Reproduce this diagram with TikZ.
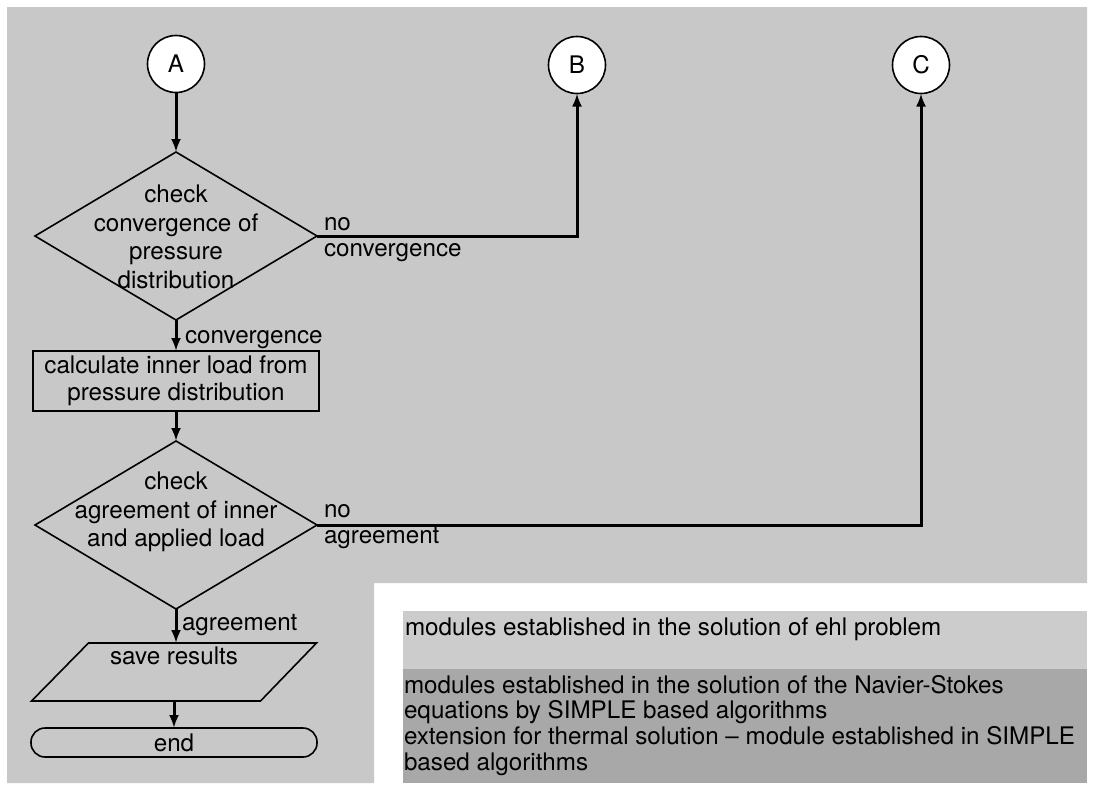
\documentclass[tikz,border=0pt]{standalone}
\usepackage{fontspec}
\setmainfont{TeX Gyre Heros}
\usetikzlibrary{shapes.geometric,arrows.meta}
\definecolor{bggray}{RGB}{200,200,200}
\definecolor{lightleg}{RGB}{204,204,204}
\definecolor{darkleg}{RGB}{168,168,168}
\begin{document}
\begin{tikzpicture}[x=1pt,y=-1pt,
  txt/.style={font=\fontsize{24.2}{28.5}\selectfont, inner sep=0pt, outer sep=0pt},
  conn/.style={circle, draw, line width=1.6pt, fill=white, minimum size=57pt, inner sep=0pt, outer sep=0pt, font=\fontsize{24.2}{28.5}\selectfont},
  dec/.style={diamond, draw, line width=1.6pt, minimum width=282pt, minimum height=168pt, inner sep=0pt, outer sep=0pt},
  proc/.style={rectangle, draw, line width=1.6pt, minimum width=286pt, minimum height=60pt, inner sep=0pt, outer sep=0pt, align=center, font=\fontsize{24.2}{27}\selectfont},
  iobox/.style={rectangle, minimum width=285pt, minimum height=58pt, inner sep=0pt, outer sep=0pt},
  shapeline/.style={line width=1.6pt, line join=miter},
  term/.style={rectangle, rounded corners=14pt, draw, line width=1.6pt, minimum width=286pt, minimum height=29pt, inner sep=0pt, outer sep=0pt, font=\fontsize{24.2}{28.5}\selectfont},
  arr/.style={line width=3pt, -{Latex[length=13pt,width=10pt]}}
]
\useasboundingbox (0,0) rectangle (1094,785);
\fill[white] (0,0) rectangle (1094,785);
\fill[bggray] (7,7) -- (1087,7) -- (1087,583) -- (374,583) -- (374,783) -- (7,783) -- cycle;
\fill[lightleg] (403,611) rectangle (1087,669);
\fill[darkleg] (403,669) rectangle (1087,783);

% connectors circles
\node[conn] (A) at (176,64) {A};
\node[conn] (B) at (577,65) {B};
\node[conn] (C) at (921,65) {C};

% decision 1
\node[dec] (d1) at (176,236) {};
\node[txt, align=center] (d1t) at (176,237) {check\\convergence of\\pressure\\distribution};

% process
\node[proc] (p1) at (176,381) {calculate inner load from\\pressure distribution};

% decision 2
\node[dec] (d2) at (176,525) {};
\node[txt, align=center] (d2t) at (176,512) {check\\agreement of inner\\and applied load};

% save results (parallelogram)
\node[iobox] (sv) at (174,672) {};
\draw[shapeline] (sv.south west) -- ++(229,0) -- (sv.north east) -- ++(-228,0) -- cycle;
\node[txt] (svt) at (174,656) {save results};

% end
\node[term] (end) at (174,742.5) {end};

% labels
\node[txt, anchor=base west] (lconv) at (185,343) {convergence};
\node[txt, anchor=base west] (lagr) at (182,630) {agreement};
\node[txt, align=left, anchor=west, font=\fontsize{24.2}{25.5}\selectfont] (lnc) at (324,239.5) {no\\convergence};
\node[txt, align=left, anchor=west, font=\fontsize{24.2}{25.5}\selectfont] (lna) at (324,526.5) {no\\agreement};

% legend
\node[txt, anchor=base west] (leg1) at (405,635) {modules established in the solution of ehl problem};
\node[txt, align=left, anchor=west, font=\fontsize{24.2}{25.7}\selectfont] (leg2) at (404,725.3) {modules established in the solution of the Navier-Stokes\\equations by SIMPLE based algorithms\\extension for thermal solution -- module established in SIMPLE\\based algorithms};

% arrows
\draw[arr] (A) -- (d1);
\draw[arr] (d1) -- (p1);
\draw[arr] (p1) -- (d2);
\draw[arr] (d2.south) -- (d2.south |- sv.north);
\draw[arr] (sv.south) -- (end.north);
\draw[arr] (d1.east) -| (B.south);
\draw[arr] (d2.east) -| (C.south);
\end{tikzpicture}
\end{document}
